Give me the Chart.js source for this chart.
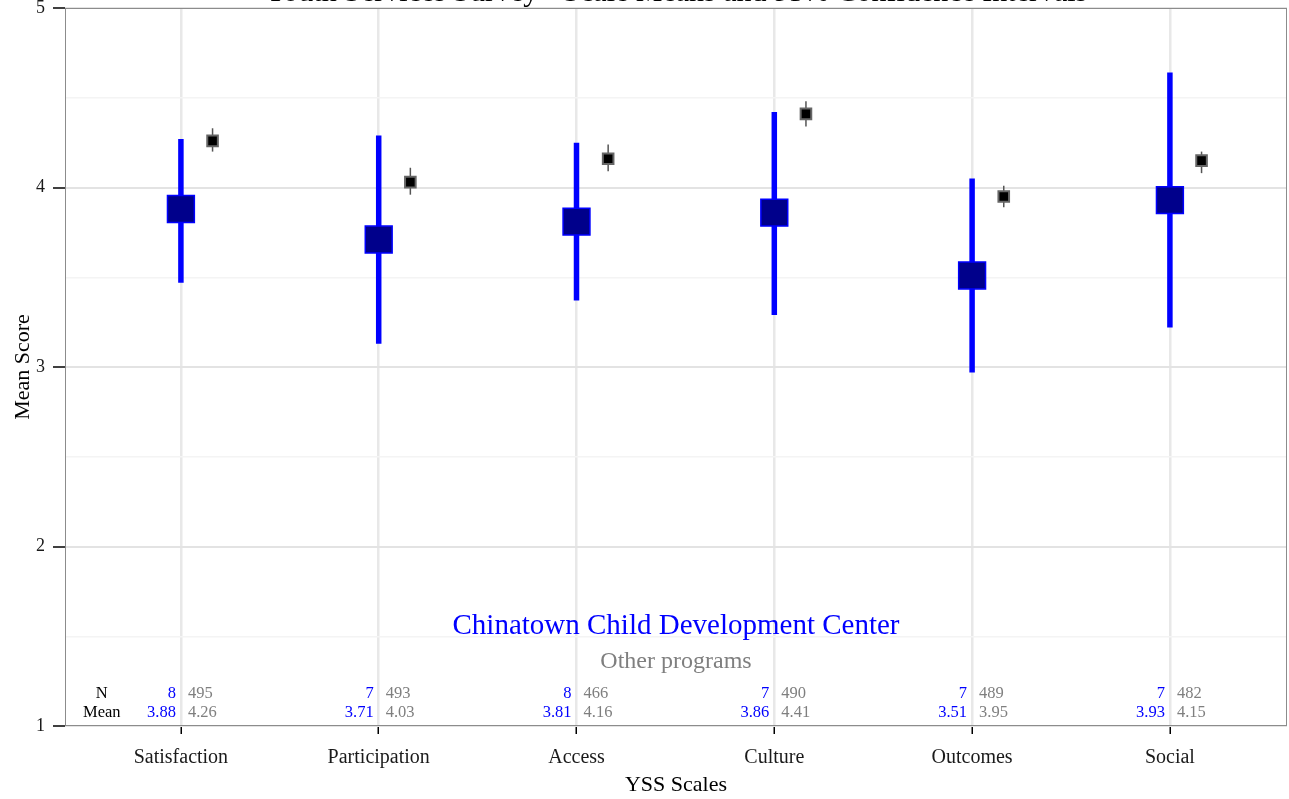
<!DOCTYPE html>
<html>
<head>
<meta charset="utf-8">
<script src="https://cdn.jsdelivr.net/npm/chart.js@4/dist/chart.umd.min.js"></script>
<style>
html,body{margin:0;padding:0;background:#fff;}
#wrap{width:1289px;height:799px;}
</style>
</head>
<body>
<div id="wrap"><canvas id="c" width="1289" height="799"></canvas></div>
<script>
const chartTitle = 'Youth Services Survey - Scale Means and 95% Confidence Intervals';
const categories = ['Satisfaction','Participation','Access','Culture','Outcomes','Social'];
const programName = 'Chinatown Child Development Center';
const otherName = 'Other programs';
const programN = [8, 7, 8, 7, 7, 7];
const programMean = [3.88, 3.71, 3.81, 3.86, 3.51, 3.93];
const programLow = [3.47, 3.13, 3.37, 3.29, 2.97, 3.22];
const programHigh = [4.27, 4.29, 4.25, 4.42, 4.05, 4.64];
const otherN = [495, 493, 466, 490, 489, 482];
const otherMean = [4.26, 4.03, 4.16, 4.41, 3.95, 4.15];
const otherLow = [4.20, 3.96, 4.09, 4.34, 3.89, 4.08];
const otherHigh = [4.33, 4.11, 4.24, 4.48, 4.01, 4.20];
const yTicks = [1, 2, 3, 4, 5];

const OFFSET = 0.16;
const FONT = '"Liberation Serif", "DejaVu Serif", serif';
const BLUE = '#0000FF';
const NAVY = '#00008B';
const GREY = '#7f7f7f';
const AREA_TOP = 8;
const AREA_RIGHT = 1287;

const progPts = categories.map((c, i) => ({x: i + 1, y: programMean[i]}));
const otherPts = categories.map((c, i) => ({x: i + 1 + OFFSET, y: otherMean[i]}));

const decor = {
  id: 'decor',
  afterLayout(chart) {
    const a = chart.chartArea;
    const {x, y} = chart.scales;
    a.top = AREA_TOP;
    a.right = AREA_RIGHT;
    a.width = a.right - a.left;
    a.height = a.bottom - a.top;
    y.top = AREA_TOP;
    y.height = y.bottom - y.top;
    y.configure();
    x.right = AREA_RIGHT;
    x.width = x.right - x.left;
    x.configure();
  },
  beforeDatasetsDraw(chart) {
    const {ctx, scales: {x, y}} = chart;
    ctx.save();
    ctx.lineCap = 'butt';
    ctx.strokeStyle = BLUE;
    ctx.lineWidth = 5.5;
    categories.forEach((c, i) => {
      const px = x.getPixelForValue(i + 1);
      ctx.beginPath();
      ctx.moveTo(px, y.getPixelForValue(programLow[i]));
      ctx.lineTo(px, y.getPixelForValue(programHigh[i]));
      ctx.stroke();
    });
    ctx.strokeStyle = '#555555';
    ctx.lineWidth = 1.5;
    categories.forEach((c, i) => {
      const px = x.getPixelForValue(i + 1 + OFFSET);
      ctx.beginPath();
      ctx.moveTo(px, y.getPixelForValue(otherLow[i]));
      ctx.lineTo(px, y.getPixelForValue(otherHigh[i]));
      ctx.stroke();
    });
    ctx.restore();
  },
  afterDraw(chart) {
    const {ctx, chartArea: a, scales: {x, y}} = chart;
    ctx.save();
    ctx.strokeStyle = '#8c8c8c';
    ctx.lineWidth = 1;
    ctx.strokeRect(a.left + 0.5, a.top + 0.5, a.right - a.left - 1, a.bottom - a.top - 1);
    ctx.fillStyle = '#000';
    ctx.font = '30px ' + FONT;
    ctx.textAlign = 'center';
    ctx.textBaseline = 'alphabetic';
    ctx.fillText(chartTitle, (a.left + a.right) / 2, 1);
    const cx = (a.left + a.right) / 2;
    ctx.textBaseline = 'middle';
    ctx.fillStyle = BLUE;
    ctx.font = '29px ' + FONT;
    ctx.fillText(programName, cx, y.getPixelForValue(1.555));
    ctx.fillStyle = GREY;
    ctx.font = '24px ' + FONT;
    ctx.fillText(otherName, cx, y.getPixelForValue(1.36));
    const yN = y.getPixelForValue(1.18);
    const yM = y.getPixelForValue(1.075);
    ctx.font = '16.5px ' + FONT;
    ctx.fillStyle = '#000';
    ctx.textAlign = 'center';
    const lx = x.getPixelForValue(0.6);
    ctx.fillText('N', lx, yN);
    ctx.fillText('Mean', lx, yM);
    categories.forEach((c, i) => {
      const px = x.getPixelForValue(i + 1);
      ctx.textAlign = 'right';
      ctx.fillStyle = BLUE;
      ctx.fillText(String(programN[i]), px - 5, yN);
      ctx.fillText(programMean[i].toFixed(2), px - 5, yM);
      ctx.textAlign = 'left';
      ctx.fillStyle = GREY;
      ctx.fillText(String(otherN[i]), px + 7, yN);
      ctx.fillText(otherMean[i].toFixed(2), px + 7, yM);
    });
    ctx.restore();
  }
};

new Chart(document.getElementById('c'), {
  type: 'scatter',
  data: {
    datasets: [
      {
        label: programName,
        data: progPts,
        pointStyle: 'rect',
        pointRadius: 19,
        pointHoverRadius: 19,
        backgroundColor: NAVY,
        borderColor: BLUE,
        borderWidth: 1.5
      },
      {
        label: otherName,
        data: otherPts,
        pointStyle: 'rect',
        pointRadius: 7.5,
        pointHoverRadius: 7.5,
        backgroundColor: '#000000',
        borderColor: '#666666',
        borderWidth: 2
      }
    ]
  },
  options: {
    responsive: false,
    animation: false,
    events: [],
    layout: {padding: {top: 8, right: 2, left: 0, bottom: 0}},
    plugins: {legend: {display: false}, tooltip: {enabled: false}, title: {display: false}},
    scales: {
      x: {
        type: 'linear',
        min: 0.414,
        max: 6.592,
        afterBuildTicks(s) { s.ticks = categories.map((c, i) => ({value: i + 1})); },
        afterFit(s) { s.height = 73; },
        ticks: {
          callback: (v) => categories[Math.round(v) - 1] || '',
          color: '#1a1a1a',
          font: {family: FONT, size: 20},
          padding: 12,
          maxRotation: 0,
          autoSkip: false
        },
        grid: {
          color: '#e8e8e8',
          lineWidth: 2.5,
          tickColor: '#000',
          tickLength: 8,
          tickWidth: 1.5
        },
        border: {display: false},
        title: {display: true, text: 'YSS Scales', color: '#000', font: {family: FONT, size: 22}, padding: {top: 0, bottom: 1}}
      },
      y: {
        type: 'linear',
        min: 1,
        max: 5,
        afterBuildTicks(s) {
          const t = [];
          yTicks.forEach((v, i) => { t.push({value: v}); if (i < yTicks.length - 1) t.push({value: v + 0.5}); });
          s.ticks = t;
        },
        afterFit(s) { s.width = 65; },
        ticks: {
          callback: (v) => (Number.isInteger(v) ? String(v) : ''),
          color: '#1a1a1a',
          font: {family: FONT, size: 18},
          padding: 8
        },
        grid: {
          color: (c) => (Number.isInteger(c.tick.value) ? '#e3e3e3' : '#f4f4f4'),
          lineWidth: (c) => (Number.isInteger(c.tick.value) ? 2 : 1.5),
          tickColor: (c) => (Number.isInteger(c.tick.value) ? '#000' : 'rgba(0,0,0,0)'),
          tickLength: 12,
          tickWidth: 1.5
        },
        border: {display: false},
        title: {display: true, text: 'Mean Score', color: '#000', font: {family: FONT, size: 22}, padding: {top: 10, bottom: 0}}
      }
    }
  },
  plugins: [decor]
});
</script>
</body>
</html>
